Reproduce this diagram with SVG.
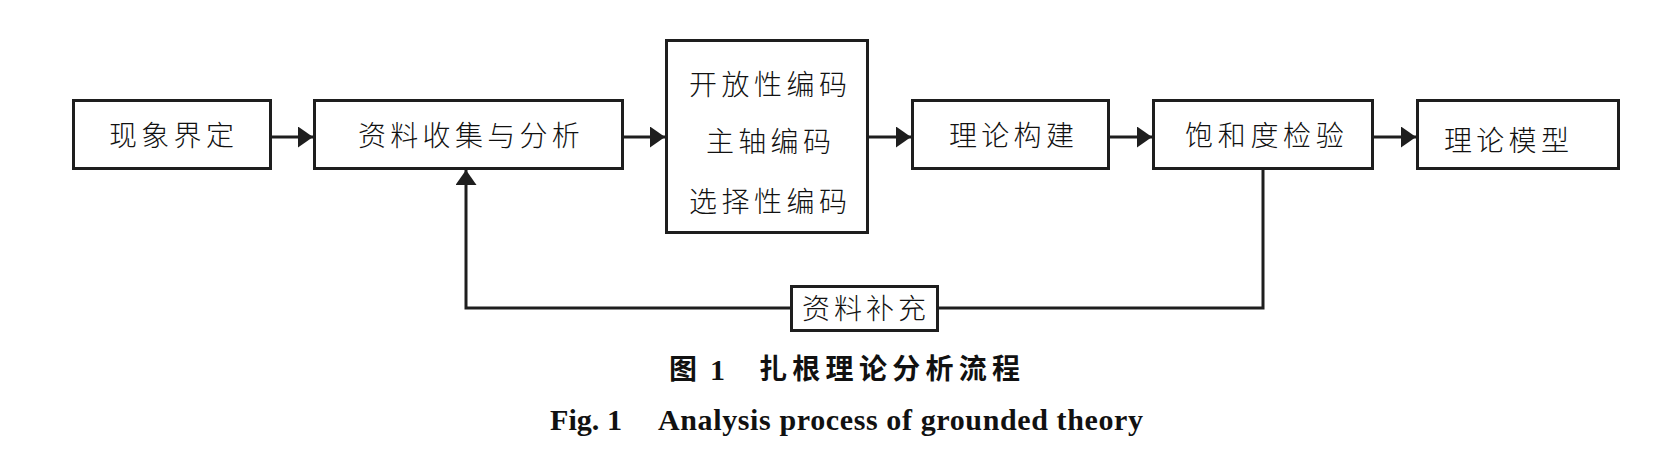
<svg xmlns="http://www.w3.org/2000/svg" width="1676" height="460" viewBox="0 0 1676 460">
<style>
.box{fill:#fff;stroke:#1e1e1e;stroke-width:3}
.conn{fill:none;stroke:#1e1e1e;stroke-width:3}
.t{font-family:"Noto Sans CJK SC","Noto Sans CJK JP",sans-serif;font-size:28px;font-weight:300;fill:#111;letter-spacing:4.3px}
.cap{font-family:"Noto Sans CJK SC","Noto Sans CJK JP",sans-serif;font-size:28px;font-weight:700;fill:#111}
.en{font-family:"Liberation Serif","Times New Roman",serif;font-size:30px;font-weight:700;fill:#111}
</style>
<defs>
<marker id="ah" markerUnits="userSpaceOnUse" markerWidth="15" markerHeight="21" viewBox="0 0 15 21" refX="15" refY="10.5" orient="auto">
<path d="M0,0 L15,10.5 L0,21 z" fill="#1e1e1e"/>
</marker>
</defs>
<rect width="1676" height="460" fill="#fff"/>
<g id="connectors">
<path class="conn" d="M272,137 H313" marker-end="url(#ah)"/>
<path class="conn" d="M624,137 H665" marker-end="url(#ah)"/>
<path class="conn" d="M869,137 H911" marker-end="url(#ah)"/>
<path class="conn" d="M1110,137 H1152" marker-end="url(#ah)"/>
<path class="conn" d="M1374,137 H1416" marker-end="url(#ah)"/>
<path class="conn" d="M1263,170 V308 H466 V170" marker-end="url(#ah)"/>
</g>
<g id="n1">
<rect class="box" x="73.5" y="100.5" width="197" height="68"/>
<text class="t" x="109" y="146">现象界定</text>
</g>
<g id="n2">
<rect class="box" x="314.5" y="100.5" width="308" height="68"/>
<text class="t" x="358" y="146">资料收集与分析</text>
</g>
<g id="n3">
<rect class="box" x="666.5" y="40.5" width="201" height="192"/>
<text class="t" x="689" y="95" style="letter-spacing:4.5px">开放性编码</text>
<text class="t" x="706" y="152">主轴编码</text>
<text class="t" x="689" y="212" style="letter-spacing:4.5px">选择性编码</text>
</g>
<g id="n4">
<rect class="box" x="912.5" y="100.5" width="196" height="68"/>
<text class="t" x="949" y="146">理论构建</text>
</g>
<g id="n5">
<rect class="box" x="1153.5" y="100.5" width="219" height="68"/>
<text class="t" x="1185" y="146" style="letter-spacing:4.7px">饱和度检验</text>
</g>
<g id="n6">
<rect class="box" x="1417.5" y="100.5" width="201" height="68"/>
<text class="t" x="1444" y="151">理论模型</text>
</g>
<g id="label">
<rect class="box" x="791.5" y="286.5" width="146" height="44"/>
<text class="t" x="802" y="319" style="letter-spacing:4px">资料补充</text>
</g>
<g id="caption">
<text class="cap" x="669" y="379">图</text>
<text class="en" x="710" y="380">1</text>
<text class="cap" x="759" y="379" style="letter-spacing:5.3px">扎根理论分析流程</text>
<text class="en" x="550" y="430" textLength="72" lengthAdjust="spacingAndGlyphs">Fig. 1</text>
<text class="en" x="658" y="430" textLength="485" lengthAdjust="spacing">Analysis process of grounded theory</text>
</g>
</svg>
